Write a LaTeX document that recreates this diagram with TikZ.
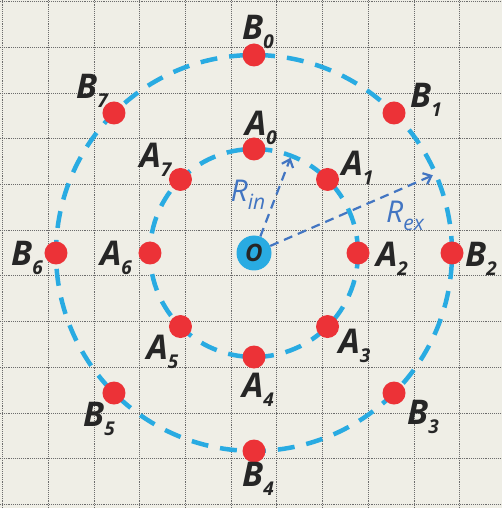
\documentclass[tikz,border=0pt]{standalone}
\usepackage{fontspec}
\setmainfont{Open Sans}
\usetikzlibrary{arrows.meta,calc}

\definecolor{paper}{RGB}{239,238,230}
\definecolor{ringblue}{RGB}{41,171,226}
\definecolor{dotred}{RGB}{236,50,55}
\definecolor{arrowblue}{RGB}{66,117,194}

\newcommand{\ptlabel}[2]{#1\raisebox{-9pt}{\fontsize{19}{19}\selectfont #2}}

\begin{document}
\begin{tikzpicture}[x=1pt, y=1pt,
    gridline/.style={draw=gray!85!black, densely dotted, line width=0.9pt},
    ring/.style={draw=ringblue, line width=4.5pt, dash pattern=on 17pt off 12pt},
    dot/.style={circle, fill=dotred, minimum size=23pt, inner sep=0pt},
    ptname/.style={font=\fontsize{34}{34}\selectfont\bfseries\itshape, text=black!85, inner sep=0pt},
    radius_arrow/.style={draw=arrowblue, line width=2.2pt, dash pattern=on 9pt off 6pt, -{Straight Barb[length=7pt, width=12pt]}},
    rname/.style={font=\fontsize{30}{30}\selectfont\itshape, text=arrowblue, inner sep=0pt}]
    \useasboundingbox (-254,-255) rectangle (248,253);
    \fill[paper] (-254,-255) rectangle (248,253);

    % grid
    \foreach \k in {-6,...,4}
        \draw[gridline] ({22.85+45.7*\k},-255) -- ({22.85+45.7*\k},253);
    \foreach \k in {-6,...,5}
        \draw[gridline] (-254,{22.85+45.7*\k}) -- (248,{22.85+45.7*\k});

    % rings
    \draw[ring] (0,0) circle (104pt);
    \draw[ring] (0,0) circle (198pt);

    \node[circle, fill=ringblue, minimum size=35pt, inner sep=0pt, font=\fontsize{24}{24}\selectfont\bfseries\itshape, text=black!85] (O) at (0,0) {O};

    % radii
    \coordinate (tipin) at (69:102pt);
    \coordinate (tipex) at (23.5:195pt);
    \draw[radius_arrow] (O) -- (tipin);
    \draw[radius_arrow] (O) -- (tipex);
    \node[rname] (rin) at (-6,58) {R\raisebox{-8pt}{\fontsize{21}{21}\selectfont in}};
    \node[rname] (rex) at (151,37) {R\raisebox{-8pt}{\fontsize{21}{21}\selectfont ex}};

    % points
    \foreach \k in {0,...,7} {
        \node[dot] (A\k) at ({90-45*\k}:104pt) {};
        \node[dot] (B\k) at ({90-45*\k}:198pt) {};
    }
    \foreach \k/\dx/\dy in {0/7/21, 1/30/12, 2/34/-6, 3/27/-19, 4/4/-33, 5/-18/-25, 6/-34/-5, 7/-25/20}
        \node[ptname] (a\k) at ($(A\k)+(\dx,\dy)$) {\ptlabel{A}{\k}};
    \foreach \k/\dx/\dy in {0/4/23, 1/32/13, 2/29/-6, 3/29/-24, 4/4/-28, 5/-15/-26, 6/-29/-5, 7/-22/22}
        \node[ptname] (b\k) at ($(B\k)+(\dx,\dy)$) {\ptlabel{B}{\k}};
\end{tikzpicture}
\end{document}
